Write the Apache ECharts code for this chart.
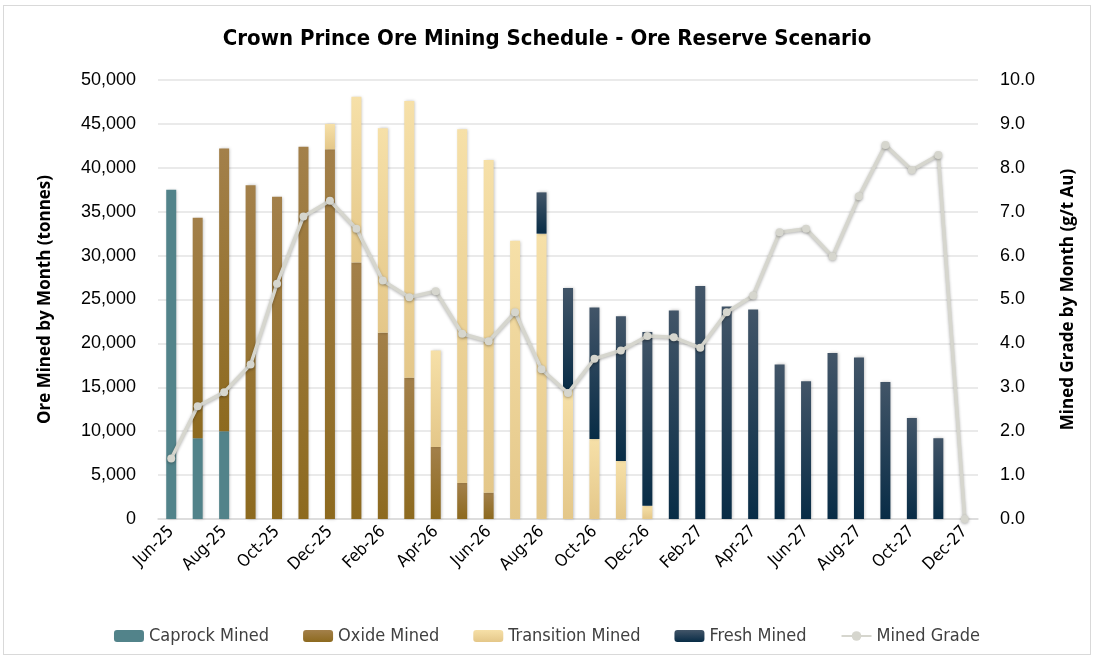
<!DOCTYPE html>
<html>
<head>
<meta charset="utf-8">
<title>Crown Prince Ore Mining Schedule</title>
<script src="https://cdn.jsdelivr.net/npm/echarts@6/dist/echarts.min.js"></script>
<style>
  html, body { margin: 0; padding: 0; background: #fff; }
  #chart { position: absolute; left: 3px; top: 5px; width: 1088px; height: 650px; border: 1px solid #d9d9d9; box-sizing: border-box; }
</style>
</head>
<body>
<div id="chart"></div>
<script type="text/javascript">
// months Jun-25 .. Dec-27
var months = ['Jun-25','Jul-25','Aug-25','Sep-25','Oct-25','Nov-25','Dec-25','Jan-26','Feb-26','Mar-26','Apr-26','May-26',
              'Jun-26','Jul-26','Aug-26','Sep-26','Oct-26','Nov-26','Dec-26','Jan-27','Feb-27','Mar-27','Apr-27','May-27',
              'Jun-27','Jul-27','Aug-27','Sep-27','Oct-27','Nov-27','Dec-27'];

// tonnes
var caprock    = [37500, 9200, 10000, 0, 0, 0, 0, 0, 0, 0, 0, 0, 0, 0, 0, 0, 0, 0, 0, 0, 0, 0, 0, 0, 0, 0, 0, 0, 0, 0, 0];
var oxide      = [0, 25100, 32200, 38000, 36700, 42400, 42100, 29200, 21200, 16100, 8200, 4100, 3000, 0, 0, 0, 0, 0, 0, 0, 0, 0, 0, 0, 0, 0, 0, 0, 0, 0, 0];
var transition = [0, 0, 0, 0, 0, 0, 2900, 18900, 23300, 31500, 11000, 40300, 37900, 31700, 32500, 14700, 9100, 6600, 1500, 0, 0, 0, 0, 0, 0, 0, 0, 0, 0, 0, 0];
var fresh      = [0, 0, 0, 0, 0, 0, 0, 0, 0, 0, 0, 0, 0, 0, 4700, 11600, 15000, 16500, 19800, 23750, 26550, 24200, 23860, 17600, 15700, 18900, 18400, 15600, 11500, 9200, 0];

// g/t Au
var grade = [1.38, 2.57, 2.89, 3.52, 5.36, 6.89, 7.25, 6.61, 5.43, 5.05, 5.19, 4.22, 4.05, 4.71, 3.41, 2.87, 3.65, 3.84, 4.17, 4.14, 3.90,
             4.71, 5.09, 6.53, 6.61, 5.98, 7.35, 8.52, 7.95, 8.29, 0.0];

var narrow = '"Liberation Sans Narrow", "DejaVu Sans Condensed", sans-serif';

function grad(top, bottom) {
    return new echarts.graphic.LinearGradient(0, 0, 0, 1, [
        { offset: 0, color: top },
        { offset: 1, color: bottom }
    ]);
}

function zeroToNull(arr) {
    return arr.map(function (v) { return v === 0 ? null : v; });
}

var chart = echarts.init(document.getElementById('chart'));

var barShadow = { shadowBlur: 3, shadowColor: 'rgba(0,0,0,0.25)', shadowOffsetX: 1, shadowOffsetY: 0 };

option = {
    animation: false,
    title: {
        text: 'Crown Prince Ore Mining Schedule - Ore Reserve Scenario',
        left: 'center',
        top: 17,
        textStyle: { fontFamily: narrow, fontSize: 22, fontWeight: 'bold', color: '#000' }
    },
    legend: {
        bottom: 4,
        left: 'center',
        itemWidth: 30,
        itemHeight: 12,
        itemGap: 34,
        textStyle: { fontFamily: narrow, fontSize: 18, color: '#404040' },
        data: ['Caprock Mined', 'Oxide Mined', 'Transition Mined', 'Fresh Mined', 'Mined Grade']
    },
    grid: { left: 154, right: 112, top: 74, bottom: 135 },
    xAxis: {
        type: 'category',
        data: months,
        axisLine: { lineStyle: { color: '#d9d9d9', width: 1.5 } },
        axisTick: { show: false },
        axisLabel: {
            interval: 1,
            rotate: 45,
            margin: 10,
            fontFamily: narrow,
            fontSize: 17,
            color: '#000'
        }
    },
    yAxis: [
        {
            type: 'value',
            min: 0,
            max: 50000,
            interval: 5000,
            name: 'Ore Mined by Month (tonnes)',
            nameLocation: 'middle',
            nameGap: 104,
            nameTextStyle: { fontFamily: 'Open Sans, sans-serif', fontSize: 17, fontWeight: 'bold', color: '#000' },
            axisLine: { show: false },
            axisTick: { show: false },
            axisLabel: {
                fontFamily: 'Liberation Sans, sans-serif',
                fontSize: 18,
                color: '#000',
                margin: 22,
                formatter: function (v) { return v.toLocaleString('en-US'); }
            },
            splitLine: { lineStyle: { color: '#e3e3e3', width: 1.5 } }
        },
        {
            type: 'value',
            min: 0,
            max: 10,
            interval: 1,
            name: 'Mined Grade by Month (g/t Au)',
            nameLocation: 'middle',
            nameGap: 82,
            nameRotate: 90,
            nameTextStyle: { fontFamily: 'Open Sans, sans-serif', fontSize: 17, fontWeight: 'bold', color: '#000' },
            axisLine: { show: false },
            axisTick: { show: false },
            axisLabel: {
                fontFamily: 'Liberation Sans, sans-serif',
                fontSize: 18,
                color: '#000',
                margin: 22,
                formatter: function (v) { return v.toFixed(1); }
            },
            splitLine: { show: false }
        }
    ],
    series: [
        {
            name: 'Caprock Mined',
            type: 'bar',
            stack: 'ore',
            barWidth: 10,
            data: zeroToNull(caprock),
            itemStyle: Object.assign({ color: '#52838a' }, barShadow)
        },
        {
            name: 'Oxide Mined',
            type: 'bar',
            stack: 'ore',
            barWidth: 10,
            data: zeroToNull(oxide),
            itemStyle: Object.assign({ color: grad('#a3804a', '#8d6a1f') }, barShadow)
        },
        {
            name: 'Transition Mined',
            type: 'bar',
            stack: 'ore',
            barWidth: 10,
            data: zeroToNull(transition),
            itemStyle: Object.assign({ color: grad('#f6e0a8', '#e4c789') }, barShadow)
        },
        {
            name: 'Fresh Mined',
            type: 'bar',
            stack: 'ore',
            barWidth: 10,
            data: zeroToNull(fresh),
            itemStyle: Object.assign({ color: grad('#425568', '#082c46') }, barShadow)
        },
        {
            name: 'Mined Grade',
            type: 'line',
            yAxisIndex: 1,
            data: grade,
            symbol: 'circle',
            symbolSize: 8,
            z: 5,
            lineStyle: { color: '#d6d6ce', width: 3.5, shadowBlur: 3, shadowColor: 'rgba(0,0,0,0.3)', shadowOffsetY: 1 },
            itemStyle: { color: '#d6d6ce', shadowBlur: 3, shadowColor: 'rgba(0,0,0,0.3)', shadowOffsetY: 1 }
        }
    ]
};

chart.setOption(option);
</script>
</body>
</html>
